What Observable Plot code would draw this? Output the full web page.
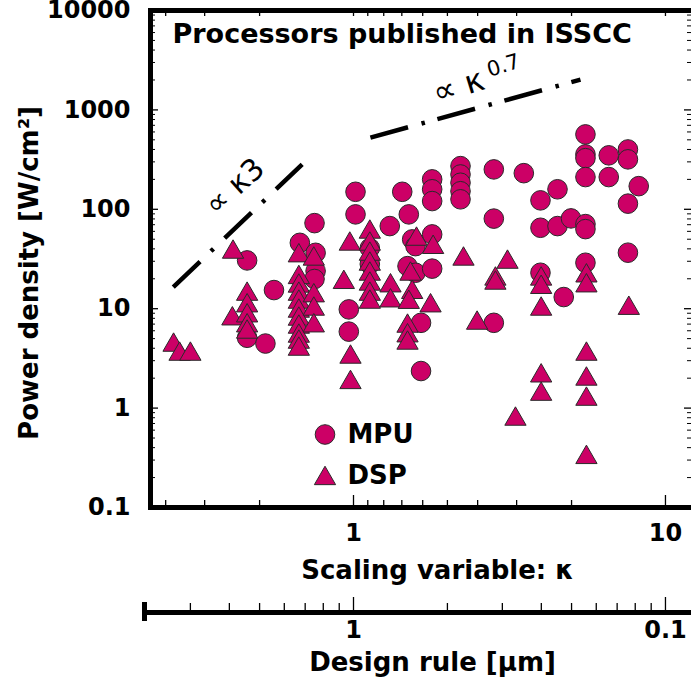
<!DOCTYPE html>
<html><head><meta charset="utf-8">
<script src="https://cdn.jsdelivr.net/npm/d3@7"></script>
<script src="https://cdn.jsdelivr.net/npm/@observablehq/plot@0.6"></script>
<style>html,body{margin:0;padding:0;background:#fff;overflow:hidden;}</style>
</head><body><div id="chart"></div>
<script>
// ---- data ----
const mpuKappa = [0.456,0.456,0.522,0.556,0.673,0.75,0.756,0.756,0.75,1.015,1.015,0.966,0.966,1.128,1.128,1.307,1.433,1.504,1.542,1.58,1.49,1.58,1.646,1.646,1.787,1.787,1.787,1.787,1.787,2.203,2.203,2.203,2.203,2.203,2.817,2.817,2.817,3.515,3.975,3.975,3.975,4.507,4.507,4.72,4.98,5.54,5.54,5.54,5.54,5.54,5.54,5.54,6.58,6.58,7.58,7.58,7.58,7.58,8.21];
const mpuPower = [30.6,5.1,4.46,15.4,46,72.6,36.5,23.9,19.9,150,88.9,9.84,5.88,40.7,28.1,67.8,150,88.9,49.8,42.6,26.8,23,7.21,2.36,200,159,121,55.9,25.3,272,224,185,152,126,252,80.6,7.21,231,123,65.2,23,159,67.8,13.1,81,567,357,327,211,71,63.2,29,349,211,400,318,114,36.6,171];

const dspKappa = [0.265,0.277,0.300,0.411,0.409,
  0.456,0.456,0.456,0.456,0.456,
  0.668,0.668,0.668,0.668,0.668,0.668,0.668,0.668,0.668,0.668,0.668,
  0.746,0.746,0.746,0.746,
  0.973,0.931,0.978,0.978,
  1.128,1.128,1.128,1.128,1.128,1.128,1.128,1.128,
  1.314,1.314,
  1.592,1.523,1.542,1.504,1.49,1.49,1.49,
  1.80,1.766,2.252,2.85,2.85,2.49,3.116,3.305,
  3.995,3.995,3.995,3.995,3.995,
  5.58,5.58,5.58,5.58,5.58,5.58,
  7.63];
const dspPower = [4.30,3.49,3.49,37.1,7.91,
  14.0,10.7,8.48,6.73,5.82,
  34.1,20.6,16.9,14.0,11.65,9.46,7.86,6.53,5.30,4.61,3.92,
  31.6,13.5,9.91,6.73,
  44.7,18.4,3.26,1.81,
  59,44.7,35.4,28.1,22.3,17.7,14.0,11.65,
  17.0,12.0,
  50.1,22.3,14.6,11.6,6.68,5.34,4.51,
  41.4,10.7,31.6,19.9,18.1,7.16,29.4,0.775,
  19.9,16.4,9.91,2.11,1.38,
  21.4,17.0,3.49,1.96,1.23,0.319,
  10.1];

// guide lines (slopes)
const k3Kappa = [0.2644, 0.6847];
const k3Power = [16.5, 283];
const k07Kappa = [1.133, 5.34];
const k07Power = [526, 2018];

// ticks / labels
const yTicks = [0.1, 1, 10, 100, 1000, 10000];
const yTickLabels = ["0.1", "1", "10", "100", "1000", "10000"];
const xTickValues = [1, 10];
const xTickLabels = ["1", "10"];
const designRules = [4, 3, 2, 1, 0.9, 0.8, 0.7, 0.6, 0.5, 0.4, 0.3, 0.2, 0.1];
const majorDesignRules = [1, 0.1];
const drAxisKappaTicks = [0.3, 0.4, 0.5, 0.6, 0.7, 0.8, 0.9, 2, 3, 4, 5, 6, 7, 8, 9];
const drAxisKappaMajor = [1, 10];
const drTickValues = [1, 0.1];
const drTickLabels = ["1", "0.1"];
const legendItems = [{label: "MPU", symbol: "circle"}, {label: "DSP", symbol: "triangle"}];

const title = "Processors published in ISSCC";
const xLabel = "Scaling variable: κ";
const yLabel = "Power density [W/cm²]";
const drLabel = "Design rule [μm]";

// ---- tables ----
const mpu = mpuKappa.map((k, i) => ({kappa: k, power: mpuPower[i]}));
const dsp = dspKappa.map((k, i) => ({kappa: k, power: dspPower[i]}));
const k3 = k3Kappa.map((k, i) => ({kappa: k, power: k3Power[i]}));
const k07 = k07Kappa.map((k, i) => ({kappa: k, power: k07Power[i]}));
const gmid = (a) => Math.sqrt(a[0] * a[1]);
const k3Mid = {kappa: gmid(k3Kappa), power: gmid(k3Power)};
const k07Mid = {kappa: gmid(k07Kappa), power: gmid(k07Power)};
const yMinor = d3.range(-1, 4).flatMap(e => d3.range(2, 10).map(m => m * Math.pow(10, e)));

const FILL = "#cc0066";
const EDGE = "#2a2a2a";
const FONT = "DejaVu Sans";
const H = 497, W = 544;
const MID = {lineAnchor: "middle"};

const plot = Plot.plot({
  width: 691, height: 684,
  marginLeft: 150, marginRight: -3, marginTop: 10, marginBottom: 177,
  x: {type: "log", domain: [0.2235, 12.39], axis: null},
  y: {type: "log", domain: [0.1, 10000], axis: null},
  style: {fontFamily: FONT, fontWeight: "bold", background: "#fff", color: "#000", overflow: "hidden"},
  marks: [
    // guide lines
    Plot.line(k3, {x: "kappa", y: "power", stroke: "#000", strokeWidth: 4.5, strokeDasharray: "37,15,3.5,15.5", strokeLinecap: "butt"}),
    Plot.line(k07, {x: "kappa", y: "power", stroke: "#000", strokeWidth: 4.5, strokeDasharray: "39,14,3.5,13", strokeLinecap: "butt"}),
    Plot.text([k3Mid], {x: "kappa", y: "power", text: () => "∝ κ3", rotate: -42, dx: -3, dy: -39, fontSize: 30, fontWeight: "normal", ...MID}),
    Plot.text([k07Mid], {x: "kappa", y: "power", text: () => "∝ κ", rotate: -17, dx: -17, dy: -22, fontSize: 32, fontWeight: "normal", ...MID}),
    Plot.text([k07Mid], {x: "kappa", y: "power", text: () => "0.7", rotate: -17, dx: 28, dy: -43, fontSize: 21, fontWeight: "normal", ...MID}),
    // data
    Plot.dot(mpu, {x: "kappa", y: "power", r: 9.8, symbol: "circle", fill: FILL, stroke: EDGE, strokeWidth: 1}),
    Plot.dot(dsp, {x: "kappa", y: "power", r: 7.9, symbol: "triangle", fill: FILL, stroke: EDGE, strokeWidth: 1}),
    // frame ticks
    Plot.tickX(designRules.filter(d => !majorDesignRules.includes(d)), {x: d => 1 / d, insetTop: H - 7, strokeWidth: 1.3}),
    Plot.tickX(majorDesignRules, {x: d => 1 / d, insetTop: H - 12, strokeWidth: 1.3}),
    Plot.tickX(designRules, {x: d => 1 / d, insetBottom: H - 6, strokeWidth: 1.3}),
    Plot.tickY(yTicks, {y: d => d, insetRight: W - 8, strokeWidth: 1.3}),
    Plot.tickY(yMinor, {y: d => d, insetRight: W - 5, strokeWidth: 1}),
    Plot.tickY(yTicks, {y: d => d, insetLeft: W - 10, strokeWidth: 1.3}),
    Plot.tickY(yMinor, {y: d => d, insetLeft: W - 7, strokeWidth: 1}),
    Plot.frame({stroke: "#000", strokeWidth: 5}),
    // tick labels
    Plot.text(yTicks, {y: d => d, text: (d, i) => yTickLabels[i], frameAnchor: "left", textAnchor: "end", dx: -20, fontSize: 24, ...MID}),
    Plot.text(xTickValues, {x: d => d, text: (d, i) => xTickLabels[i], frameAnchor: "bottom", dy: 26, fontSize: 24, ...MID}),
    // axis titles
    Plot.text([xLabel], {text: d => d, frameAnchor: "bottom", dx: 15, dy: 63, fontSize: 26, ...MID}),
    Plot.text([yLabel], {text: d => d, frameAnchor: "left", textAnchor: "middle", rotate: -90, dx: -121, dy: 14, fontSize: 26, ...MID}),
    // title
    Plot.text([title], {text: d => d, frameAnchor: "top-left", textAnchor: "start", dx: 22, dy: 24, fontSize: 27, ...MID}),
    // legend
    ...legendItems.map((d, i) => Plot.dot([d], {frameAnchor: "bottom-left", dx: 174.5, dy: i === 0 ? -73 : -29, symbol: d.symbol, r: d.symbol === "circle" ? 9.8 : 7.9, fill: FILL, stroke: EDGE, strokeWidth: 1})),
    ...legendItems.map((d, i) => Plot.text([d], {frameAnchor: "bottom-left", text: "label", textAnchor: "start", dx: 197, dy: -73 + 41 * i, fontSize: 26, ...MID})),
    // secondary axis: design rule
    Plot.ruleY([yTicks[0]], {y: d => d, dy: 105, insetLeft: -6, strokeWidth: 5, stroke: "#000"}),
    Plot.tickX([0.2235], {x: d => d, dx: -6, dy: 114, insetTop: H - 19, strokeWidth: 5}),
    Plot.tickX(drAxisKappaTicks, {x: d => d, dy: 105, insetTop: H - 9, strokeWidth: 1.3}),
    Plot.tickX(drAxisKappaMajor, {x: d => d, dy: 105, insetTop: H - 15, strokeWidth: 1.3}),
    Plot.text(drTickValues, {x: d => 1 / d, text: (d, i) => drTickLabels[i], frameAnchor: "bottom", dy: 123, fontSize: 24, ...MID}),
    Plot.text([drLabel], {text: d => d, frameAnchor: "bottom", dx: 10, dy: 155, fontSize: 26, ...MID})
  ]
});
document.getElementById("chart").appendChild(plot);
</script>
</body></html>
